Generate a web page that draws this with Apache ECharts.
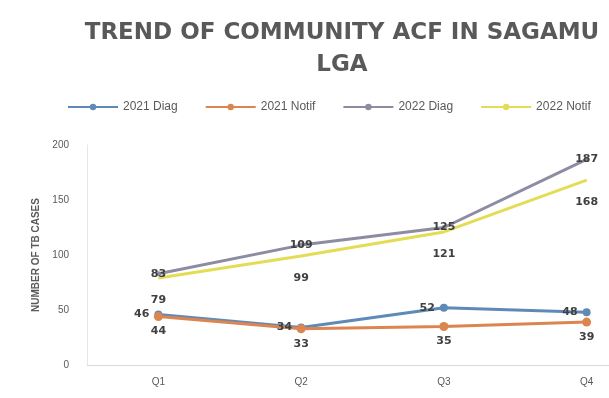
<!DOCTYPE html>
<html><head><meta charset="utf-8">
<script src="https://cdn.jsdelivr.net/npm/echarts@6/dist/echarts.min.js"></script>
<style>html,body{margin:0;padding:0;background:#fff;overflow:hidden;width:609px;height:398px;}#c{width:674px;height:398px;}</style>
</head><body><div id="c"></div>
<script>
var categories = ['Q1', 'Q2', 'Q3', 'Q4'];
var diag2021 = [46, 34, 52, 48];
var notif2021 = [44, 33, 35, 39];
var diag2022 = [83, 109, 125, 187];
var notif2022 = [79, 99, 121, 168];
var seriesNames = ['2021 Diag', '2021 Notif', '2022 Diag', '2022 Notif'];
var yTicks = [0, 50, 100, 150, 200];

var chart = echarts.init(document.getElementById('c'));
var lbl = function (pos) {
  return { show: true, position: pos, color: '#404040', fontSize: 11, fontWeight: 'bold', fontFamily: 'DejaVu Sans' };
};
chart.setOption({
  animation: false,
  backgroundColor: '#fff',
  title: {
    text: 'TREND OF COMMUNITY ACF IN SAGAMU\nLGA',
    left: 337, top: 12, textAlign: 'center',
    textStyle: { color: '#595959', fontSize: 23, fontWeight: 'bold', fontFamily: 'DejaVu Sans', lineHeight: 32 }
  },
  legend: {
    top: 96, left: 62, itemWidth: 50, itemHeight: 8, itemGap: 27,
    textStyle: { color: '#595959', fontSize: 12, fontFamily: 'Liberation Sans' },
    data: seriesNames
  },
  grid: { left: 87, right: 16, top: 145, bottom: 33 },
  xAxis: {
    type: 'category', data: categories, boundaryGap: true,
    axisLine: { lineStyle: { color: '#d9d9d9' } }, axisTick: { show: false },
    axisLabel: { color: '#595959', fontSize: 10, margin: 12 }
  },
  yAxis: {
    type: 'value', min: 0, max: 200, interval: 50,
    name: 'NUMBER OF TB CASES', nameLocation: 'middle', nameGap: 44,
    nameTextStyle: { color: '#595959', fontSize: 10, fontWeight: 'bold' },
    axisLine: { show: true, lineStyle: { color: '#e6e6e6' } }, axisTick: { show: false },
    splitLine: { show: false },
    axisLabel: { color: '#595959', fontSize: 10, margin: 18,
      formatter: function (v) { return yTicks.indexOf(v) >= 0 ? String(v) : ''; } }
  },
  series: [
    { name: seriesNames[0], type: 'line', data: diag2021, symbol: 'circle', symbolSize: 8,
      lineStyle: { width: 3, color: '#5f8ab8' }, itemStyle: { color: '#5f8ab8' }, label: lbl('left') },
    { name: seriesNames[1], type: 'line', data: notif2021, symbol: 'circle', symbolSize: 9,
      lineStyle: { width: 3, color: '#dd8550' }, itemStyle: { color: '#dd8550' }, label: lbl('bottom'), z: 3 },
    { name: seriesNames[2], type: 'line', data: diag2022, symbol: 'circle', symbolSize: 5,
      lineStyle: { width: 3, color: '#8e8ca2' }, itemStyle: { color: '#8e8ca2' }, label: lbl('inside') },
    { name: seriesNames[3], type: 'line', data: notif2022, symbol: 'circle', symbolSize: 1,
      lineStyle: { width: 3, color: '#e4dc55' }, itemStyle: { color: '#e4dc55' },
      label: Object.assign(lbl('bottom'), { distance: 16 }), z: 1 }
  ]
});
</script></body></html>
